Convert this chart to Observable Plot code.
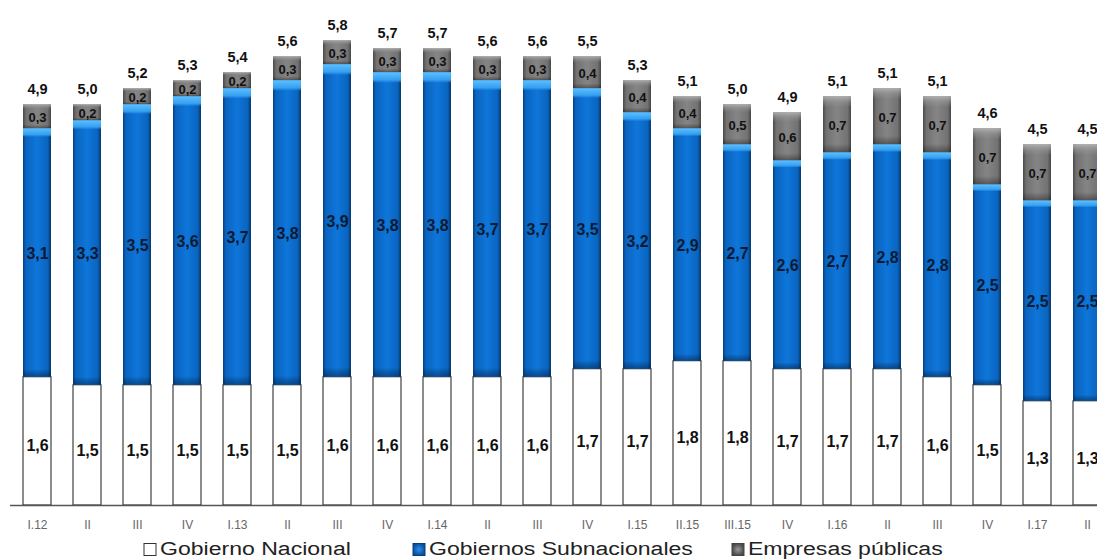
<!DOCTYPE html>
<html>
<head>
<meta charset="utf-8">
<script src="https://cdn.jsdelivr.net/npm/d3@7"></script>
<script src="https://cdn.jsdelivr.net/npm/@observablehq/plot@0.6"></script>
<style>
  html, body { margin: 0; padding: 0; background: #fff; overflow: hidden; }
  #wrap { width: 1097px; height: 560px; position: relative; overflow: hidden; }
  #legend { position: absolute; top: 539px; left: 0; width: 1097px; height: 24px;
            font-family: "Liberation Sans", Arial, sans-serif; font-size: 18px; color: #222; }
  .item { position: absolute; top: 0; display: flex; align-items: center; white-space: nowrap; }
  .item svg { margin-right: 2px; }
  .item span { display: inline-block; transform-origin: 0 50%; transform: scaleX(1.28); }
</style>
</head>
<body>
<div id="wrap"><div id="chart"></div><div id="legend"></div></div>
<script>
// ---- data ----
const categories = ["I.12","II.12","III.12","IV.12","I.13","II.13","III.13","IV.13","I.14","II.14","III.14","IV.14","I.15","II.15","III.15","IV.15","I.16","II.16","III.16","IV.16","I.17","II.17"];
const tickLabels = ["I.12","II","III","IV","I.13","II","III","IV","I.14","II","III","IV","I.15","II.15","III.15","IV","I.16","II","III","IV","I.17","II"];
const gobiernoNacional = [1.6,1.5,1.5,1.5,1.5,1.5,1.6,1.6,1.6,1.6,1.6,1.7,1.7,1.8,1.8,1.7,1.7,1.7,1.6,1.5,1.3,1.3];
const gobiernosSubnacionales = [3.1,3.3,3.5,3.6,3.7,3.8,3.9,3.8,3.8,3.7,3.7,3.5,3.2,2.9,2.7,2.6,2.7,2.8,2.8,2.5,2.5,2.5];
const empresasPublicas = [0.3,0.2,0.2,0.2,0.2,0.3,0.3,0.3,0.3,0.3,0.3,0.4,0.4,0.4,0.5,0.6,0.7,0.7,0.7,0.7,0.7,0.7];
const totals = [4.9,5.0,5.2,5.3,5.4,5.6,5.8,5.7,5.7,5.6,5.6,5.5,5.3,5.1,5.0,4.9,5.1,5.1,5.1,4.6,4.5,4.5];
const seriesNames = ["Gobierno Nacional","Gobiernos Subnacionales","Empresas públicas"];
const seriesValues = [gobiernoNacional, gobiernosSubnacionales, empresasPublicas];

const fmt = v => v.toFixed(1).replace(".", ",");
const long = [];
categories.forEach((c, i) => {
  seriesNames.forEach((s, k) => long.push({cat: c, serie: s, k, value: seriesValues[k][i]}));
});
const bottomRows = long.filter(d => d.k === 0);
const totalRows = categories.map((c, i) => ({
  cat: c, total: totals[i],
  top: gobiernoNacional[i] + gobiernosSubnacionales[i] + empresasPublicas[i]
}));

const baseFill = ["#ffffff", "url(#gBlue)", "url(#gGray)"];
const overFill = ["none", "url(#vBlue)", "url(#vGray)"];
const textFill = ["#111", "#0c1a33", "#111"];
const textSize = [16, 16, 13];

const font = '"Liberation Sans", Arial, sans-serif';
const chart = Plot.plot({
  width: 1097,
  height: 537,
  marginTop: 0,
  marginBottom: 32,
  marginLeft: 10,
  marginRight: 0,
  style: {fontFamily: font, background: "#fff", overflow: "hidden"},
  x: {domain: categories, range: [10, 1114], paddingInner: 0.44, paddingOuter: 0.22, label: null,
      tickSize: 0, tickPadding: 15, tickFormat: d => tickLabels[categories.indexOf(d)]},
  y: {domain: [0, 6.3], axis: null},
  color: {type: "identity"},
  marks: [
    Plot.barY(long, Plot.stackY({x: "cat", y: "value", z: "serie", order: null,
      fill: d => baseFill[d.k], stroke: d => d.k === 0 ? "#1a1a1a" : "none", strokeWidth: 1})),
    Plot.barY(long, Plot.stackY({x: "cat", y: "value", z: "serie", order: null,
      fill: d => overFill[d.k]})),
    Plot.ruleY([0], {stroke: "#555", strokeWidth: 1.5}),
    Plot.text(long, Plot.stackY({x: "cat", y: "value", z: "serie", order: null,
      text: d => d.k === 0 ? "" : fmt(d.value), fill: d => textFill[d.k], fontWeight: "bold",
      fontSize: d => textSize[d.k], dy: 1})),
    Plot.text(bottomRows, Plot.stackY({x: "cat", y: "value",
      text: d => fmt(d.value), fill: "#111", fontWeight: "bold", fontSize: 16, dy: 5})),
    Plot.text(totalRows, {x: "cat", y: "top", text: d => fmt(d.total), dy: -15,
      fontWeight: "bold", fontSize: 14.5, fill: "#111"})
  ]
});

// gradients for the 3D bar look
const svg = d3.select(chart);
const defs = svg.insert("defs", ":first-child");
function hGrad(id, stops) {
  const g = defs.append("linearGradient").attr("id", id).attr("x1", 0).attr("x2", 1).attr("y1", 0).attr("y2", 0);
  stops.forEach(([o, c]) => g.append("stop").attr("offset", o).attr("stop-color", c));
}
function vGrad(id, stops) {
  const g = defs.append("linearGradient").attr("id", id).attr("x1", 0).attr("x2", 0).attr("y1", 0).attr("y2", 1);
  stops.forEach(([o, c, a]) => g.append("stop").attr("offset", o).attr("stop-color", c).attr("stop-opacity", a));
}
hGrad("gBlue", [[0, "#063f7e"], [0.1, "#0a64bf"], [0.5, "#0e76da"], [0.88, "#0a64bf"], [1, "#053668"]]);
hGrad("gGray", [[0, "#4a4a4a"], [0.12, "#727272"], [0.5, "#858585"], [0.88, "#727272"], [1, "#454545"]]);
vGrad("vBlue", [[0, "#5fc0ff", 1], [0.025, "#3aa6f5", 0.9], [0.035, "#3aa6f5", 0], [0.97, "#000", 0], [1, "#001a40", 0.45]]);
vGrad("vGray", [[0, "#b5b5b5", 0.9], [0.12, "#999", 0.4], [0.2, "#999", 0], [0.85, "#000", 0], [1, "#000", 0.35]]);

svg.selectAll("g[aria-label='x-axis tick label'] text, g[aria-label='x-axis tick label']")
   .attr("fill", "#666").attr("font-size", 12);
document.getElementById("chart").appendChild(chart);

// legend
const legend = document.getElementById("legend");
const items = [
  {x: 143, label: seriesNames[0], fill: "#fff", stroke: "#333"},
  {x: 412, label: seriesNames[1], fill: "url(#lgBlue)", stroke: "#063f7e"},
  {x: 731, label: seriesNames[2], fill: "url(#lgGray)", stroke: "#444"}
];
items.forEach(it => {
  const div = document.createElement("div");
  div.className = "item";
  div.style.left = it.x + "px";
  div.innerHTML = `<svg width="15" height="15" viewBox="0 0 15 15">
    <defs>
      <radialGradient id="lgBlue"><stop offset="0" stop-color="#2e8ff0"/><stop offset="1" stop-color="#0a4f9a"/></radialGradient>
      <radialGradient id="lgGray"><stop offset="0" stop-color="#9a9a9a"/><stop offset="1" stop-color="#4a4a4a"/></radialGradient>
    </defs>
    <rect x="1" y="1.5" width="12" height="12" fill="${it.fill}" stroke="${it.stroke}" stroke-width="1"/></svg><span>${it.label}</span>`;
  legend.appendChild(div);
});
</script>
</body>
</html>
